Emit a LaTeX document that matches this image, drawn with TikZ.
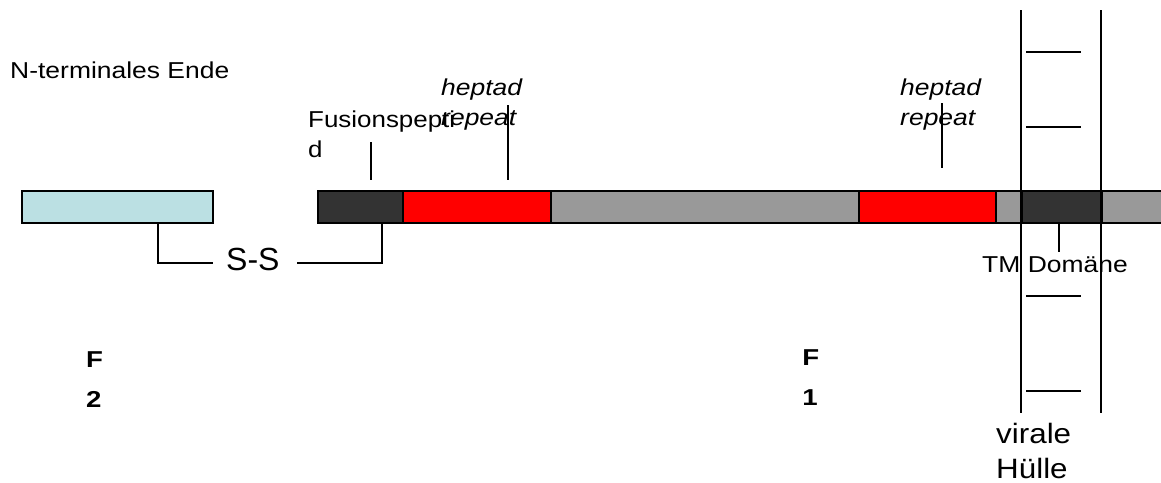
\documentclass[tikz,border=0pt]{standalone}
\usepackage{fontspec}
\setmainfont{Liberation Sans}
\definecolor{paleblue}{HTML}{BBE0E3}
\definecolor{darkseg}{HTML}{333333}
\definecolor{redseg}{HTML}{FF0000}
\definecolor{grayseg}{HTML}{999999}
\begin{document}
\begin{tikzpicture}[x=1pt,y=-1pt,
  seg/.style={draw=black,line width=1.6pt,minimum height=32pt,inner sep=0pt,anchor=north west},
  txt/.style={inner sep=0pt,anchor=base west,align=left},
  lbl/.style={txt,xscale=1.15,font=\fontsize{23}{30}\selectfont},
  rep/.style={txt,xscale=1.15,font=\fontsize{23}{30}\selectfont\itshape},
  big/.style={txt,xscale=1.2,font=\fontsize{23}{40}\selectfont\bfseries},
  hull/.style={txt,xscale=1.12,font=\fontsize{28}{35}\selectfont},
  ln/.style={line width=1.6pt}]
\useasboundingbox (0,0) rectangle (1161,482);

% F2 chain
\node[seg,fill=paleblue,minimum width=191pt] (f2) at (21,190) {};

% F1 chain, from the fusion peptide to the membrane anchor
\node[seg,fill=grayseg,minimum width=80pt]  (g3)  at (1101,190) {};
\node[seg,fill=grayseg,minimum width=26pt]  (g2)  at (995,190) {};
\node[seg,fill=grayseg,minimum width=308pt] (g1)  at (550,190) {};
\node[seg,fill=darkseg,minimum width=85pt]  (fp)  at (317,190) {};
\node[seg,fill=redseg,minimum width=148pt]  (hr1) at (402,190) {};
\node[seg,fill=redseg,minimum width=137pt]  (hr2) at (858,190) {};
\node[seg,fill=darkseg,minimum width=80pt]  (tm)  at (1021,190) {};

% viral envelope
\coordinate (mL) at (1021,10);
\coordinate (mR) at (1101,10);
\coordinate (mLb) at (1021,413);
\coordinate (mRb) at (1101,413);
\draw[ln] (mL) -- (mLb);
\draw[ln] (mR) -- (mRb);
\foreach \yy [count=\i] in {52,127,296,391} {
  \coordinate (h\i a) at (1026,\yy);
  \coordinate (h\i b) at (1081,\yy);
  \draw[ln] (h\i a) -- (h\i b);
}

% labels (multi-line labels are placed by the baseline of their last line)
\node[lbl] (nterm) at (10,78) {N-terminales Ende};
\node[lbl,xscale=0.98] (fplbl) at (308,157) {Fusionspepti\\d};
\node[rep] (hr1lbl) at (441,125) {heptad\\repeat};
\node[rep] (hr2lbl) at (900,125) {heptad\\repeat};
\node[lbl] (tmlbl) at (982,272) {TM Domäne};
\node[txt,font=\fontsize{32}{36}\selectfont] (ss) at (226,270) {S-S};
\node[big] (F2) at (86,407) {F\\2};
\node[big] (F1) at (802,405) {F\\1};
\node[hull] (env) at (996,478) {virale\\Hülle};

% pointers to the domains
\coordinate (fpT) at (371,142);
\draw[ln] (fpT) -- (fpT |- 0,180);
\coordinate (hr1T) at (508,105);
\draw[ln] (hr1T) -- (hr1T |- 0,180);
\coordinate (hr2T) at (942,103);
\draw[ln] (hr2T) -- (hr2T |- 0,168);
\coordinate (tmB) at (1059,252);
\draw[ln] (tmB |- tm.south) -- (tmB);

% disulfide bridge between F2 and F1
\coordinate (ssA) at (158,263);
\coordinate (ssB) at (213,263);
\coordinate (ssC) at (297,263);
\coordinate (ssD) at (382,263);
\draw[ln] (ssA |- f2.south) -- (ssA) -- (ssB);
\draw[ln] (ssC) -- (ssD) -- (ssD |- fp.south);
\end{tikzpicture}
\end{document}
